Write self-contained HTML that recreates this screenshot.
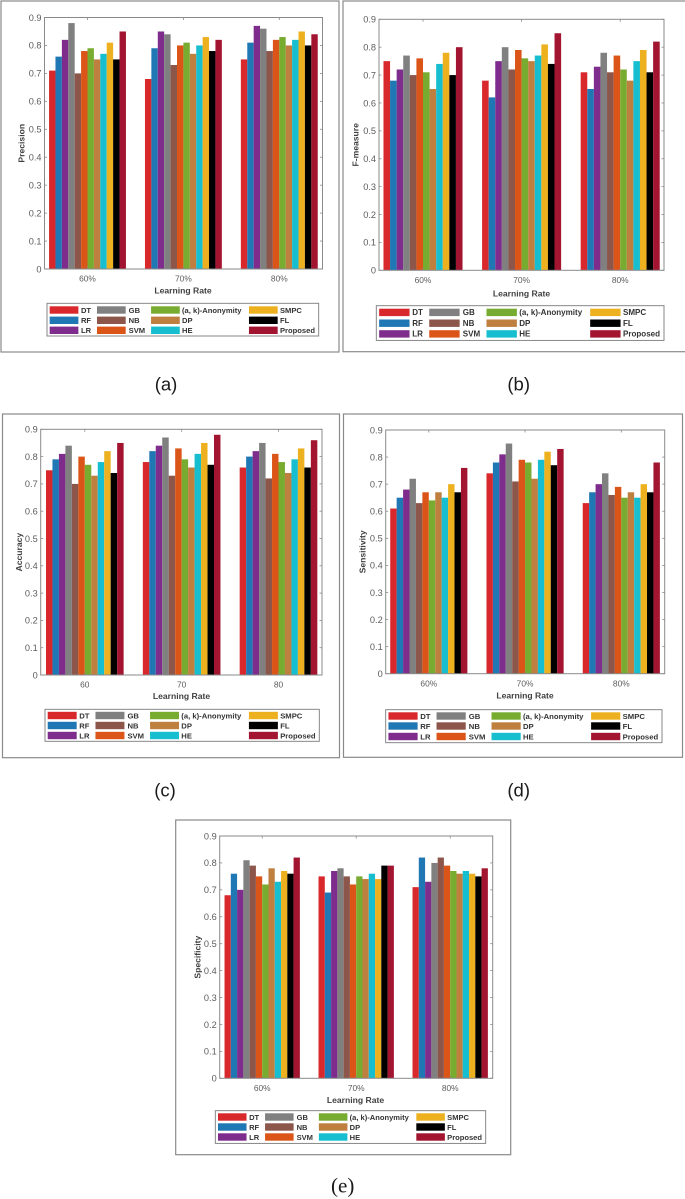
<!DOCTYPE html>
<html lang="en">
<head>
<meta charset="utf-8">
<title>Learning rate metric comparison</title>
<style>
html,body{margin:0;padding:0;background:#fff;width:685px;height:1199px;overflow:hidden}
svg{display:block;filter:blur(.35px)}
text{font-family:"Liberation Sans",sans-serif}
</style>
</head>
<body>
<svg id="figure" xmlns="http://www.w3.org/2000/svg" width="685" height="1199" viewBox="0 0 685 1199"></svg>
<script>
// ---- chart data ----
const seriesNames = ['DT','RF','LR','GB','NB','SVM','(a, k)-Anonymity','DP','HE','SMPC','FL','Proposed'];
const seriesColors = ['#d9282b','#1f77b4','#7e2d8c','#808080','#8c564b','#dc5518','#77ac30','#bf7f3f','#17becf','#edb120','#000000','#a2142f'];
const yTicks = [0,0.1,0.2,0.3,0.4,0.5,0.6,0.7,0.8,0.9];
const yMax = 0.9;
const percentLabels = ['60%','70%','80%'];
const plainLabels = ['60','70','80'];

const precisionValues = [
  [.71,.76,.82,.88,.70,.78,.79,.75,.77,.81,.75,.85],
  [.68,.79,.85,.84,.73,.80,.81,.77,.80,.83,.78,.82],
  [.75,.81,.87,.86,.78,.82,.83,.80,.82,.85,.80,.84]
];
const fMeasureValues = [
  [.75,.68,.72,.77,.70,.76,.71,.65,.74,.78,.70,.80],
  [.68,.62,.75,.80,.72,.79,.76,.75,.77,.81,.74,.85],
  [.71,.65,.73,.78,.71,.77,.72,.68,.75,.79,.71,.82]
];
const accuracyValues = [
  [.75,.79,.81,.84,.70,.80,.77,.73,.78,.82,.74,.85],
  [.78,.82,.84,.87,.73,.83,.79,.76,.81,.85,.77,.88],
  [.76,.80,.82,.85,.72,.81,.78,.74,.79,.83,.76,.86]
];
const sensitivityValues = [
  [.61,.65,.68,.72,.63,.67,.64,.67,.65,.70,.67,.76],
  [.74,.78,.81,.85,.71,.79,.78,.72,.79,.82,.77,.83],
  [.63,.67,.70,.74,.66,.69,.65,.67,.65,.70,.67,.78]
];
const specificityValues = [
  [.68,.76,.70,.81,.79,.75,.72,.78,.73,.77,.76,.82],
  [.75,.69,.77,.78,.75,.72,.75,.74,.76,.74,.79,.79],
  [.71,.82,.73,.80,.82,.79,.77,.76,.77,.76,.75,.78]
];

// ---- panel layout ----
const panels = [
  {id:'a',title:'Precision',values:precisionValues,labels:percentLabels,
   frame:[1,1,338,351],ax:[44.5,322.5,17.5,269],c0:87.5,pitch:95.9,
   tickY:278.7,xTitleY:290.7,xTitleX:183,yTitleX:21.7,
   legend:[47,303.3,271.7,32.7],rowY:[310,320.3,330.3],capX:166,capY:384,capText:'(a)',serif:false},
  {id:'b',title:'F-measure',values:fMeasureValues,labels:percentLabels,
   frame:[343,1,346,350.7],ax:[379,664,19.3,270.3],c0:423,pitch:98.6,
   tickY:280.3,xTitleY:293.3,xTitleX:521.5,yTitleX:355.3,
   legend:[376.3,305.7,287.7,34.7],rowY:[312.4,323.2,333.9],capX:518.7,capY:384,capText:'(b)',serif:false},
  {id:'c',title:'Accuracy',values:accuracyValues,labels:plainLabels,
   frame:[2.5,414,337,343.7],ax:[40.7,322,429.3,675],c0:84.8,pitch:96.85,
   tickY:684.7,xTitleY:696,xTitleX:181.5,yTitleX:19,
   legend:[45,709.3,274.3,32],rowY:[715.5,725.5,735.5],capX:165,capY:790,capText:'(c)',serif:false},
  {id:'d',title:'Sensitivity',values:sensitivityValues,labels:percentLabels,
   frame:[343.5,414,339,343.3],ax:[385.7,664.7,430,673.7],c0:428.8,pitch:96.25,
   tickY:683.7,xTitleY:695.3,xTitleX:525,yTitleX:362.7,
   legend:[385.7,709.7,276.3,33],rowY:[716,726,736.5],capX:518.7,capY:790,capText:'(d)',serif:false},
  {id:'e',title:'Specificity',values:specificityValues,labels:percentLabels,
   frame:[175.7,820,335,334.7],ax:[219.7,492.7,836,1078.3],c0:262.2,pitch:94,
   tickY:1088,xTitleY:1100,xTitleX:355.5,yTitleX:197.7,
   legend:[215.3,1110.7,270.4,32.7],rowY:[1117,1127,1137],capX:342.7,capY:1186,capText:'(e)',serif:true}
];

// legend column offsets, as a fraction of the legend width
const swatchCols = [0.0099,0.184,0.383,0.7434];
const textCols = [0.125,0.3006,0.4969,0.8575];
const swatchFrac = 0.1056;
const legendCols = [[0,1,2],[3,4,5],[6,7,8],[9,10,11]];

const svg = document.getElementById('figure');
const NS = 'http://www.w3.org/2000/svg';
function make(tag, attrs, parent, txt){
  const n = document.createElementNS(NS, tag);
  for (const k in attrs) n.setAttribute(k, attrs[k]);
  if (txt !== undefined) n.textContent = txt;
  parent.appendChild(n);
  return n;
}
const axisGrey = '#8a8a8a';
const textGrey = '#5c5c5c';

panels.forEach(function(p){
  const g = make('g', {}, svg);
  
  

  const frame = make('rect', {x:p.frame[0],y:p.frame[1],width:p.frame[2],height:p.frame[3],fill:'#fff',stroke:axisGrey,'stroke-width':1.2}, g);
  
  

  const L = p.ax[0], R = p.ax[1], T = p.ax[2], B = p.ax[3];
  const yScale = function(v){ return B - v / yMax * (B - T); };
  const xScale = function(i){ return p.c0 + i * p.pitch; };
  const barW = p.pitch * 0.0668;

  // bars
  p.values.forEach(function(groupVals, gi){
    groupVals.forEach(function(v, si){
      const x = xScale(gi) + (si - groupVals.length / 2) * barW;
      const bar = make('rect', {x:x,y:yScale(v),width:barW,height:B - yScale(v),fill:seriesColors[si]}, g);
      
      
    });
  });

  // axes box
  const box = make('rect', {x:L,y:T,width:R - L,height:B - T,fill:'none',stroke:axisGrey,'stroke-width':1}, g);
  
  

  // y ticks
  yTicks.forEach(function(t){
    const y = yScale(t);
    const tl = make('line', {x1:L,x2:L + 2.5,y1:y,y2:y,stroke:axisGrey,'stroke-width':.8}, g);
    
    
    const tr = make('line', {x1:R,x2:R - 2.5,y1:y,y2:y,stroke:axisGrey,'stroke-width':.8}, g);
    
    
    const lab = make('text', {x:L - 3,y:y + 3.3,'text-anchor':'end','font-size':9.2,fill:textGrey}, g, String(t));
    
    
  });

  // x ticks and labels
  p.labels.forEach(function(label, i){
    const x = xScale(i);
    const tb = make('line', {x1:x,x2:x,y1:B,y2:B - 2.5,stroke:axisGrey,'stroke-width':.8}, g);
    
    
    const tt = make('line', {x1:x,x2:x,y1:T,y2:T + 2.5,stroke:axisGrey,'stroke-width':.8}, g);
    
    
    const lab = make('text', {x:x,y:p.tickY + 2.9,'text-anchor':'middle','font-size':8.4,fill:textGrey}, g, label);
    
    
  });

  // axis titles
  const xt = make('text', {x:p.xTitleX,y:p.xTitleY + 3,'text-anchor':'middle','font-size':8.6,'font-weight':'bold',fill:'#404040'}, g, 'Learning Rate');
  
  
  const yMid = (T + B) / 2;
  const yt = make('text', {x:p.yTitleX + 3,y:yMid,'text-anchor':'middle','font-size':8.6,'font-weight':'bold',fill:'#404040',transform:'rotate(-90 ' + (p.yTitleX + 3) + ' ' + yMid + ')'}, g, p.title);
  
  

  // legend
  const lg = make('g', {}, g);
  
  
  const lx = p.legend[0], ly = p.legend[1], lw = p.legend[2], lh = p.legend[3];
  const lbox = make('rect', {x:lx,y:ly,width:lw,height:lh,fill:'#fff',stroke:'#7a7a7a','stroke-width':.9}, lg);
  
  
  const swW = lw * swatchFrac;
  const fs = 7.6 * lw / 271.7;
  legendCols.forEach(function(col, ci){
    col.forEach(function(si, ri){
      const cy = p.rowY[ri];
      const sw = make('rect', {x:lx + lw * swatchCols[ci],y:cy - 3.7,width:swW,height:7.4,fill:seriesColors[si]}, lg);
      
      
      const tx = make('text', {x:lx + lw * textCols[ci],y:cy + 2.8,'font-size':fs,'font-weight':'bold',fill:'#333'}, lg, seriesNames[si]);
      
      
    });
  });

  // caption
  const cap = make('text', {x:p.capX,y:p.capY + 6.5,'text-anchor':'middle','font-size':p.serif ? 21 : 18.5,fill:'#1a1a1a'}, g, p.capText);
  if (p.serif) cap.setAttribute('style', 'font-family:"Liberation Serif",serif');
  
  
});
</script>
</body>
</html>
